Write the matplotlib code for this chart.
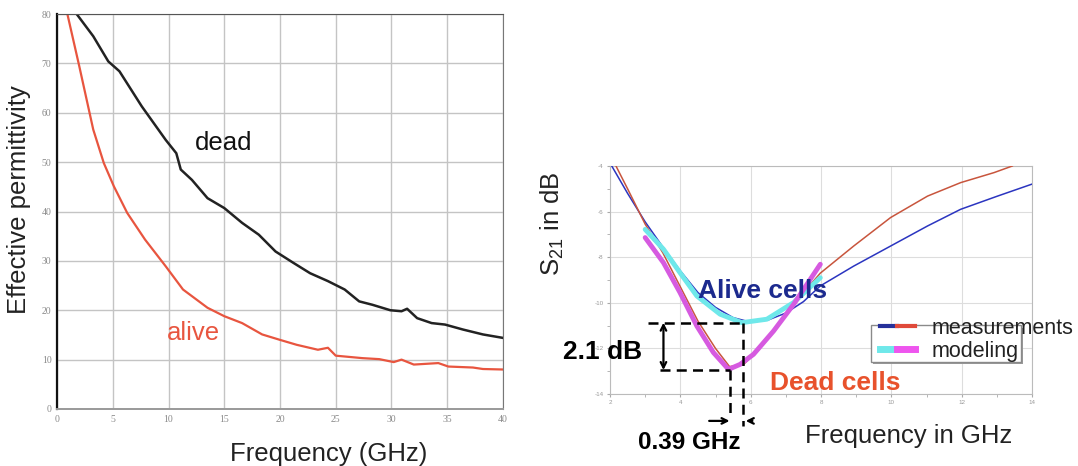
import matplotlib

matplotlib.use("Agg")
import matplotlib.pyplot as plt
from matplotlib.legend_handler import HandlerTuple
from matplotlib.lines import Line2D
from matplotlib.patches import Rectangle
from matplotlib.ticker import MultipleLocator

# Left panel: effective permittivity vs frequency
dead_f = [1.76, 3.25, 4.6, 5.6, 7.6, 9.75, 10.7, 11.1, 12.1, 13.5, 15.0, 16.6,
          18.1, 19.6, 21.2, 22.7, 24.3, 25.8, 27.1, 28.3, 29.9, 30.9, 31.4,
          32.3, 33.6, 34.8, 36.4, 38.2, 40.0]
dead_eps = [80, 75.5, 70.4, 68.4, 61.3, 54.5, 51.8, 48.5, 46.4, 42.7, 40.7, 37.7,
            35.3, 31.9, 29.6, 27.5, 25.9, 24.2, 21.8, 21.1, 20.0, 19.8, 20.3,
            18.4, 17.4, 17.1, 16.1, 15.1, 14.4]
alive_f = [0.93, 2.0, 3.25, 4.2, 5.1, 6.3, 7.9, 9.75, 11.3, 13.5, 15.0, 16.6,
           18.4, 20.0, 21.5, 23.4, 24.3, 25.0, 27.4, 28.9, 30.2, 30.9, 32.0,
           34.2, 35.1, 37.3, 38.2, 40.0]
alive_eps = [80, 69.4, 56.6, 49.8, 45.1, 39.7, 34.3, 28.9, 24.2, 20.5, 18.8, 17.4,
             15.1, 14.0, 13.0, 12.0, 12.4, 10.8, 10.3, 10.1, 9.5, 10.0, 9.0,
             9.3, 8.6, 8.4, 8.1, 8.0]

# Right panel: S21 measurements (thin) and modeling (thick)
meas_alive_f = [2.05, 2.5, 3.0, 3.5, 4.0, 4.5, 5.0, 5.5, 6.0, 6.5, 7.0, 7.5,
                7.98, 8.93, 9.98, 11.03, 11.97, 13.02, 13.99]
meas_alive_s21 = [-4.0, -5.2, -6.45, -7.55, -8.6, -9.55, -10.2, -10.65, -10.85,
                  -10.75, -10.45, -9.95, -9.26, -8.39, -7.51, -6.63, -5.9, -5.32, -4.8]
meas_dead_f = [2.17, 2.5, 3.0, 3.5, 4.0, 4.5, 5.0, 5.4, 5.8, 6.2, 6.7, 7.2,
               7.98, 8.93, 9.98, 11.03, 11.97, 12.92, 13.44]
meas_dead_s21 = [-4.0, -5.0, -6.55, -7.8, -9.3, -10.8, -12.0, -12.8, -12.7, -12.1,
                 -11.2, -10.1, -8.7, -7.51, -6.26, -5.32, -4.73, -4.29, -4.0]
mod_alive_f = [3.0, 3.52, 4.0, 4.47, 5.13, 5.75, 6.46, 7.22, 7.98]
mod_alive_s21 = [-6.78, -7.65, -8.7, -9.7, -10.5, -10.87, -10.72, -9.99, -8.9]
mod_dead_f = [3.0, 3.52, 3.99, 4.47, 4.94, 5.37, 5.7, 6.08, 6.65, 7.22, 7.98]
mod_dead_s21 = [-7.14, -8.24, -9.55, -11.02, -12.18, -12.92, -12.7, -12.26,
                -11.24, -10.07, -8.31]

alive_min_f, alive_min_s21 = 5.79, -10.87
dead_min_f, dead_min_s21 = 5.40, -12.95

plt.rcParams["font.family"] = ["Liberation Sans", "DejaVu Sans"]
plt.rcParams["mathtext.default"] = "regular"
plt.rcParams["axes.unicode_minus"] = False

RED = "#e8553f"
BLUE = "#2b35c0"
MRED = "#c8553d"
CYAN = "#6fe8ea"
MAGENTA = "#d65ae0"

fig = plt.figure(figsize=(10.78, 4.66), dpi=100)
ax1 = fig.add_axes([57 / 1078, 1 - 409 / 466, 446 / 1078, 395 / 466])
ax2 = fig.add_axes([610 / 1078, 1 - 394 / 466, 422 / 1078, 228 / 466])

# ---- left panel
ax1.plot(dead_f, dead_eps, color="#222222", lw=1.8)
ax1.plot(alive_f, alive_eps, color=RED, lw=1.6)
ax1.set_xlim(0, 40)
ax1.set_ylim(0, 80)
ax1.set_xticks(range(0, 41, 5))
ax1.set_yticks(range(0, 81, 10))
ax1.grid(True, color="#c4c4c4", lw=1)
ax1.set_axisbelow(True)
ax1.tick_params(length=0, labelsize=7, labelcolor="#8a8a8a", pad=4)
for lab in ax1.get_xticklabels() + ax1.get_yticklabels():
    lab.set_family("Liberation Serif")
ax1.spines["left"].set_color("#111111")
ax1.spines["left"].set_linewidth(1.6)
ax1.spines["top"].set_color("#555555")
ax1.spines["right"].set_color("#777777")
ax1.spines["bottom"].set_color("#999999")
ax1.spines["bottom"].set_linewidth(1.4)

ax1.text(14.93, 52.5, "dead", fontsize=18.5, color="#111111", ha="center", va="baseline")
ax1.text(12.28, 14.0, "alive", fontsize=18.5, color=RED, ha="center", va="baseline")

ax1.set_xlabel("Frequency (GHz)", fontsize=18.5, color="#222222")
ax1.xaxis.set_label_coords(0.61, -0.132)
ax1.xaxis.label.set_va("baseline")
ax1.set_ylabel("Effective permittivity", fontsize=18.5, color="#222222")
ax1.yaxis.set_label_coords(-0.085, 0.53)
ax1.yaxis.label.set_va("center")

# ---- right panel
ax2.plot(meas_alive_f, meas_alive_s21, color=BLUE, lw=1.1, zorder=3)
ax2.plot(meas_dead_f, meas_dead_s21, color=MRED, lw=1.1, zorder=3)
ax2.plot(mod_alive_f, mod_alive_s21, color=CYAN, lw=3.5, solid_capstyle="round", zorder=4)
ax2.plot(mod_dead_f, mod_dead_s21, color=MAGENTA, lw=3.5, solid_capstyle="round", zorder=4)
ax2.set_xlim(2, 14)
ax2.set_ylim(-14, -4)
ax2.set_xticks(range(2, 15, 2))
ax2.set_yticks(range(-14, -3, 2))
ax2.xaxis.set_minor_locator(MultipleLocator(1))
ax2.yaxis.set_minor_locator(MultipleLocator(1))
ax2.grid(True, which="major", color="#dddddd", lw=0.8)
ax2.tick_params(which="both", length=2.5, color="#aaaaaa", labelsize=4.5,
                labelcolor="#999999", pad=2)
for sp in ax2.spines.values():
    sp.set_color("#bbbbbb")

# annotation: minima and differences
dash = dict(color="black", lw=1.8, ls=(0, (4, 2.5)), clip_on=False, zorder=5)
ax2.plot([3.09, alive_min_f], [alive_min_s21, alive_min_s21], **dash)
ax2.plot([3.42, dead_min_f], [dead_min_s21, dead_min_s21], **dash)
ax2.plot([alive_min_f, alive_min_f], [alive_min_s21, -15.4], **dash)
ax2.plot([dead_min_f, dead_min_f], [dead_min_s21, -14.96], **dash)
ax2.annotate("", xy=(3.52, alive_min_s21), xytext=(3.52, dead_min_s21),
             arrowprops=dict(arrowstyle="<->", color="black", lw=1.6,
                             shrinkA=0, shrinkB=0), annotation_clip=False)
ax2.annotate("", xy=(dead_min_f, -15.18), xytext=(4.82, -15.18),
             arrowprops=dict(arrowstyle="->", color="black", lw=1.6,
                             shrinkA=0, shrinkB=0), annotation_clip=False)
ax2.annotate("", xy=(5.86, -15.18), xytext=(6.05, -15.18),
             arrowprops=dict(arrowstyle="->", color="black", lw=1.6,
                             shrinkA=0, shrinkB=0), annotation_clip=False)

ax2.text(1.80, -12.48, "2.1 dB", fontsize=19, fontweight="bold", ha="center",
         va="baseline", zorder=6)
ax2.text(4.26, -16.4, "0.39 GHz", fontsize=17.5, fontweight="bold", ha="center",
         va="baseline")
ax2.text(6.33, -9.77, "Alive cells", fontsize=19, fontweight="bold", color="#1c2a8e",
         ha="center", va="baseline", zorder=6)
ax2.text(8.41, -13.82, "Dead cells", fontsize=19, fontweight="bold", color="#e8522c",
         ha="center", va="baseline", zorder=6)

ax2.set_xlabel("Frequency in GHz", fontsize=18.5, color="#222222")
ax2.xaxis.set_label_coords(0.708, -0.216)
ax2.xaxis.label.set_va("baseline")
ax2.set_ylabel("S$_{21}$ in dB", fontsize=18.5, color="#222222")
ax2.yaxis.set_label_coords(-0.137, 0.746)
ax2.yaxis.label.set_va("center")

# legend with two-coloured handles, box drawn narrower than the text
ax2.add_patch(Rectangle((0.624, 0.130), 0.355, 0.161, transform=ax2.transAxes,
                        facecolor="#9a9a9a", edgecolor="none", zorder=6))
ax2.add_patch(Rectangle((0.618, 0.142), 0.355, 0.161, transform=ax2.transAxes,
                        facecolor="white", edgecolor="#8a8a8a", lw=1, zorder=6))
h_meas = (Line2D([], [], color="#26309a", lw=3), Line2D([], [], color="#e04a3a", lw=3))
h_mod = (Line2D([], [], color=CYAN, lw=5), Line2D([], [], color="#ee55ee", lw=5))
leg = ax2.legend([h_meas, h_mod], ["measurements", "modeling"],
                 handler_map={tuple: HandlerTuple(ndivide=None, pad=0)},
                 frameon=False, loc="upper left", bbox_to_anchor=(0.64, 0.335),
                 fontsize=15.5, handlelength=1.6, handletextpad=0.8,
                 labelspacing=0.1, borderpad=0, borderaxespad=0)
leg.set_zorder(7)
for t in leg.get_texts():
    t.set_color("#222222")

fig.savefig("out.png", dpi=100)
